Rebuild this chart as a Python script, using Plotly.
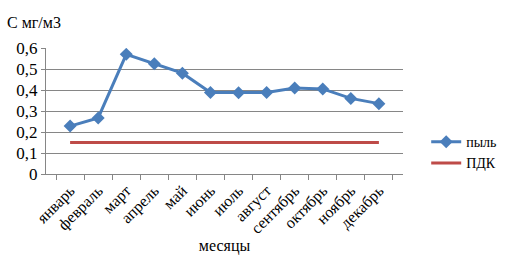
import plotly.graph_objects as go

months = ["январь", "февраль", "март", "апрель", "май", "июнь", "июль",
          "август", "сентябрь", "октябрь", "ноябрь", "декабрь"]
dust = [0.228, 0.267, 0.57, 0.525, 0.48, 0.388, 0.387, 0.388, 0.41, 0.405, 0.36, 0.335]
pdk = [0.15] * 12
y_ticks = [0, 0.1, 0.2, 0.3, 0.4, 0.5, 0.6]
y_labels = ["0", "0,1", "0,2", "0,3", "0,4", "0,5", "0,6"]

font = "Liberation Serif, Times New Roman, DejaVu Serif, serif"

fig = go.Figure()
fig.add_trace(go.Scatter(x=months, y=dust, name="пыль", mode="lines+markers",
                         line=dict(color="#4A7EBB", width=3),
                         marker=dict(symbol="diamond", size=10, color="#4A7EBB")))
fig.add_trace(go.Scatter(x=months, y=pdk, name="ПДК", mode="lines",
                         line=dict(color="#BE4B48", width=3)))

fig.update_layout(
    width=520, height=255,
    margin=dict(l=46, r=117, t=48, b=81, autoexpand=False),
    paper_bgcolor="white", plot_bgcolor="white",
    font=dict(family=font, size=15, color="black"),
    showlegend=True,
    legend=dict(x=1.065, y=0.17, xref="paper", yref="paper", xanchor="left", yanchor="middle",
                font=dict(family=font, size=14, color="black"), tracegroupgap=0,
                itemwidth=30, bgcolor="rgba(0,0,0,0)"),
    xaxis=dict(type="category", tickangle=-45, tickson="boundaries", automargin=False,
               ticks="outside", ticklen=5, tickcolor="#868686",
               showline=True, linecolor="#868686", showgrid=False,
               tickfont=dict(family=font, size=16, color="black"),
               title=dict(text="месяцы", font=dict(family=font, size=16, color="black"),
                          standoff=0)),
    yaxis=dict(range=[0, 0.6], tickvals=y_ticks, ticktext=y_labels, automargin=False,
               ticks="outside", ticklen=4, tickcolor="#868686",
               showline=True, linecolor="#868686",
               showgrid=True, gridcolor="#868686", gridwidth=1,
               zeroline=False, tickfont=dict(family=font, size=17, color="black")),
    annotations=[dict(text="С мг/м3", x=-0.115, y=1.2, xref="paper", yref="paper",
                      xanchor="left", yanchor="middle", showarrow=False,
                      font=dict(family=font, size=16, color="black"))],
)
fig.write_html("out.html", config={"displayModeBar": False},
               post_script="document.body.style.margin='0';")
